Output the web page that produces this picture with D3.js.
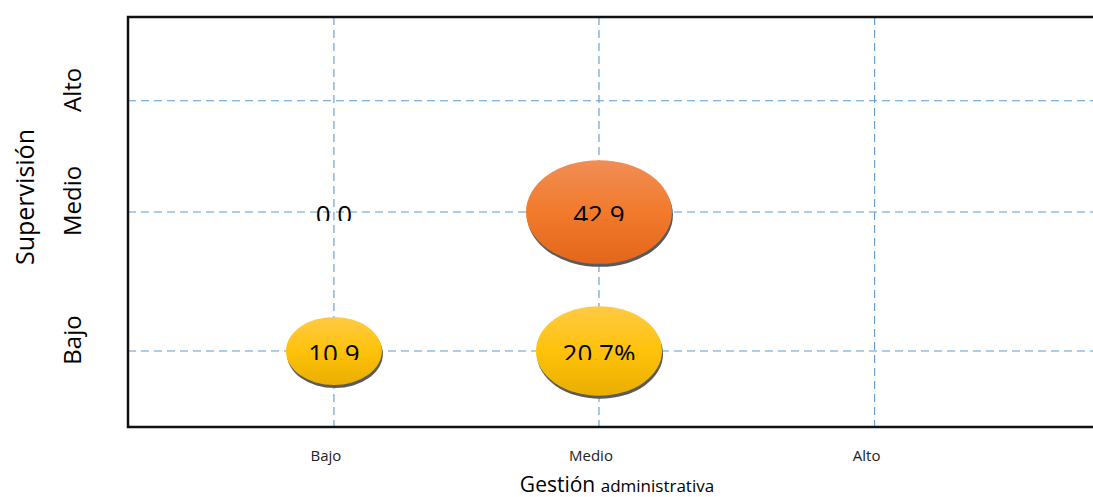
<!DOCTYPE html>
<html>
<head>
<meta charset="utf-8">
<script src="https://cdn.jsdelivr.net/npm/d3@7"></script>
<style>
  body { margin: 0; background: #fff; }
  svg { display: block; font-family: "Open Sans", "Noto Sans", sans-serif; }
</style>
</head>
<body>
<div id="chart"></div>
<script>
// categorias (niveles) de ambos ejes
const levels = ["Bajo", "Medio", "Alto"];
// valor numerico de cada nivel en el eje (leido del dibujo, no es uniforme)
const xLevelValue = [1, 2, 3.04];
const yLevelValue = [1, 2, 2.8];
// punto: nivel de gestion administrativa (x), nivel de supervision (y)
const gestion = [1, 2, 1, 2];
const supervision = [2, 2, 1, 1];
const labels = ["0.0", "42.9", "10.9", "20.7%"];
// tamaño de la burbuja (estimado del dibujo)
const sizes = [0, 42.9, 18.5, 32];
const colorKind = ["orange", "orange", "yellow", "yellow"];

const width = 1093;
const height = 497;
const margin = { top: 17, right: 0, bottom: 70, left: 128 };

const svg = d3.select('#chart')
  .append('svg')
  .attr('width', width)
  .attr('height', height);

const x = d3.scaleLinear()
  .domain([0.223, 3.864])
  .range([margin.left, width - margin.right]);

const y = d3.scaleLinear()
  .domain([0.453, 3.403])
  .range([height - margin.bottom, margin.top]);

// radio horizontal de la burbuja
const r = d3.scaleSqrt().domain([0, 42.9]).range([0, 73]);

const defs = svg.append('defs');

function grad(id, stops) {
  const g = defs.append('linearGradient')
    .attr('id', id)
    .attr('x1', 0).attr('y1', 0).attr('x2', 0).attr('y2', 1);
  stops.forEach(s => g.append('stop').attr('offset', s[0]).attr('stop-color', s[1]));
}
grad('g-orange', [[0, '#F08E55'], [0.5, '#F27A2C'], [1, '#E2661B']]);
grad('g-yellow', [[0, '#FFCA45'], [0.5, '#FFC20A'], [1, '#E9AE00']]);

// rejilla
const grid = svg.append('g')
  .attr('stroke', '#5B9BD5')
  .attr('stroke-width', 1.1)
  .attr('stroke-dasharray', '8,5');

grid.selectAll('line.v')
  .data(xLevelValue)
  .join('line')
  .attr('class', 'v')
  .attr('x1', d => x(d)).attr('x2', d => x(d))
  .attr('y1', margin.top).attr('y2', height - margin.bottom);

grid.selectAll('line.h')
  .data(yLevelValue)
  .join('line')
  .attr('class', 'h')
  .attr('x1', margin.left).attr('x2', width)
  .attr('y1', d => y(d)).attr('y2', d => y(d));

// bordes del area
svg.append('path')
  .attr('d', `M${width},${margin.top}H${margin.left}V${height - margin.bottom}H${width}`)
  .attr('fill', 'none')
  .attr('stroke', '#111')
  .attr('stroke-width', 2.5);

const pts = d3.range(labels.length).map(i => ({
  x: xLevelValue[gestion[i] - 1],
  y: yLevelValue[supervision[i] - 1],
  label: labels[i], size: sizes[i], kind: colorKind[i]
}));

const bub = svg.append('g')
  .selectAll('g')
  .data(pts)
  .join('g')
  .attr('transform', d => `translate(${x(d.x)},${y(d.y)})`);

// sombra
bub.filter(d => d.size > 0).append('ellipse')
  .attr('cx', 1).attr('cy', 3)
  .attr('rx', d => r(d.size))
  .attr('ry', d => r(d.size) * 0.71)
  .attr('fill', '#5a5a5a');

bub.filter(d => d.size > 0).append('ellipse')
  .attr('rx', d => r(d.size))
  .attr('ry', d => r(d.size) * 0.71)
  .attr('fill', d => `url(#g-${d.kind})`);

// etiquetas (cortadas por abajo como en el original)
bub.each(function (d, i) {
  const cp = defs.append('clipPath').attr('id', 'clip' + i);
  cp.append('rect').attr('x', -60).attr('y', -30).attr('width', 120).attr('height', 39);
  d3.select(this).append('text')
    .attr('clip-path', `url(#clip${i})`)
    .attr('text-anchor', 'middle')
    .attr('y', 12)
    .attr('font-size', 26)
    .attr('fill', '#000')
    .text(d.label);
});

// etiquetas de ejes
svg.append('g')
  .selectAll('text')
  .data(levels)
  .join('text')
  .attr('x', (d, i) => x(xLevelValue[i]) - 8)
  .attr('y', 461)
  .attr('text-anchor', 'middle')
  .attr('font-size', 15)
  .attr('fill', '#222')
  .text(d => d);

svg.append('g')
  .selectAll('text')
  .data(levels)
  .join('text')
  .attr('transform', (d, i) => `translate(81,${y(yLevelValue[i]) - 11}) rotate(-90)`)
  .attr('text-anchor', 'middle')
  .attr('font-size', 24)
  .attr('fill', '#000')
  .text(d => d);

svg.append('text')
  .attr('transform', 'translate(34,197) rotate(-90)')
  .attr('text-anchor', 'middle')
  .attr('font-size', 25)
  .attr('fill', '#000')
  .text('Supervisión');

const xt = svg.append('text')
  .attr('x', 617)
  .attr('y', 492)
  .attr('text-anchor', 'middle')
  .attr('fill', '#000');
xt.append('tspan').attr('font-size', 21).text('Gestión ');
xt.append('tspan').attr('font-size', 17).text('administrativa');
</script>
</body>
</html>
